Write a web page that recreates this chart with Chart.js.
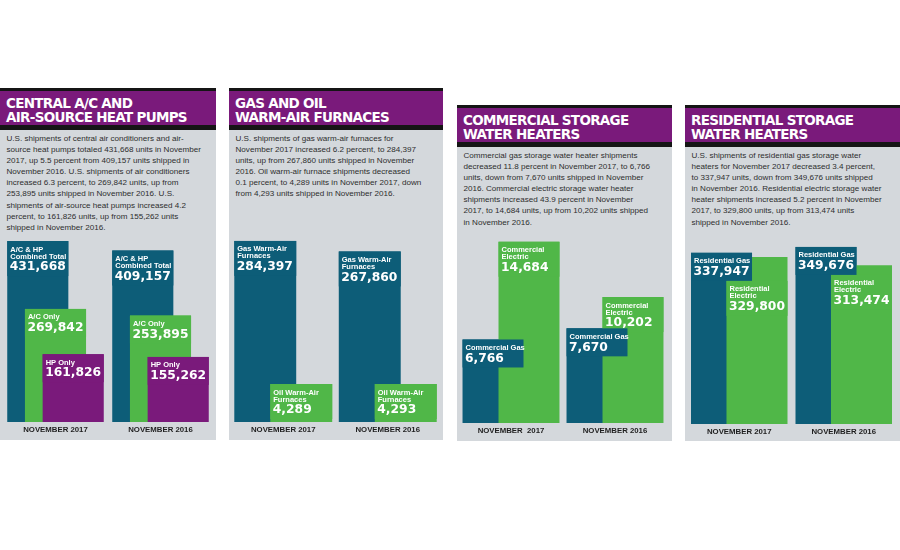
<!DOCTYPE html>
<html>
<head>
<meta charset="utf-8">
<script src="https://cdn.jsdelivr.net/npm/chart.js@4/dist/chart.umd.min.js"></script>
<style>
  html, body { margin: 0; padding: 0; background: #fff; }
  body { width: 900px; height: 550px; position: relative; overflow: hidden; }
  .panel { position: absolute; background: #d4d8dc; }
  .head { position: absolute; left: 0; top: 0; right: 0; height: 34px; background: #7a1a7b;
          border-top: 3px solid #151515; border-bottom: 5px solid #151515; }
  .title { position: absolute; left: 6px; top: 5.3px; color: #fff; white-space: nowrap;
           font: bold 13.5px/14px "DejaVu Sans", sans-serif; letter-spacing: -0.7px; }
  .body { position: absolute; left: 6.5px; top: 45px; color: #2e2e2e; white-space: nowrap;
          font: 8.1px/11.1px "Liberation Sans", Arial, sans-serif; }
  canvas { position: absolute; }
</style>
</head>
<body>
<div class="panel" style="left:0;top:88px;width:216px;height:352px">
  <div class="head"><div class="title">CENTRAL A/C AND<br>AIR-SOURCE HEAT PUMPS</div></div>
  <div class="body">U.S. shipments of central air conditioners and air-<br>source heat pumps totaled 431,668 units in November<br>2017, up 5.5 percent from 409,157 units shipped in<br>November 2016. U.S. shipments of air conditioners<br>increased 6.3 percent, to 269,842 units, up from<br>253,895 units shipped in November 2016. U.S.<br>shipments of air-source heat pumps increased 4.2<br>percent, to 161,826 units, up from 155,262 units<br>shipped in November 2016.</div>
</div>
<div class="panel" style="left:229px;top:88px;width:214px;height:352px">
  <div class="head"><div class="title">GAS AND OIL<br>WARM-AIR FURNACES</div></div>
  <div class="body">U.S. shipments of gas warm-air furnaces for<br>November 2017 increased 6.2 percent, to 284,397<br>units, up from 267,860 units shipped in November<br>2016. Oil warm-air furnace shipments decreased<br>0.1 percent, to 4,289 units in November 2017, down<br>from 4,293 units shipped in November 2016.</div>
</div>
<div class="panel" style="left:457px;top:105px;width:215px;height:336px">
  <div class="head"><div class="title">COMMERCIAL STORAGE<br>WATER HEATERS</div></div>
  <div class="body">Commercial gas storage water heater shipments<br>decreased 11.8 percent in November 2017, to 6,766<br>units, down from 7,670 units shipped in November<br>2016. Commercial electric storage water heater<br>shipments increased 43.9 percent in November<br>2017, to 14,684 units, up from 10,202 units shipped<br>in November 2016.</div>
</div>
<div class="panel" style="left:685px;top:105px;width:215px;height:336px">
  <div class="head"><div class="title">RESIDENTIAL STORAGE<br>WATER HEATERS</div></div>
  <div class="body">U.S. shipments of residential gas storage water<br>heaters for November 2017 decreased 3.4 percent,<br>to 337,947 units, down from 349,676 units shipped<br>in November 2016. Residential electric storage water<br>heater shipments increased 5.2 percent in November<br>2017, to 329,800 units, up from 313,474 units<br>shipped in November 2016.</div>
</div>

<canvas id="acChart" width="210" height="213" style="left:3px;top:225px"></canvas>
<canvas id="furnaceChart" width="209" height="213" style="left:231px;top:225px"></canvas>
<canvas id="commChart" width="208" height="213" style="left:459px;top:226px"></canvas>
<canvas id="resChart" width="209" height="213" style="left:687px;top:227px"></canvas>

<script>
// categories
const months = ['NOVEMBER 2017', 'NOVEMBER 2016'];
const commMonths = ['NOVEMBER  2017', 'NOVEMBER 2016'];

// central a/c and heat pumps
const acNames = ['A/C & HP|Combined Total', 'A/C Only', 'HP Only'];
const acCombined = [431668, 409157];
const acOnly = [269842, 253895];
const hpOnly = [161826, 155262];

// furnaces
const furnaceNames = ['Gas Warm-Air|Furnaces', 'Oil Warm-Air|Furnaces'];
const gasFurnace = [284397, 267860];
const oilFurnace = [4289, 4293];

// commercial water heaters
const commNames = ['Commercial Gas', 'Commercial|Electric'];
const commGas = [6766, 7670];
const commElectric = [14684, 10202];

// residential water heaters
const resNames = ['Residential Gas', 'Residential|Electric'];
const resGas = [337947, 349676];
const resElectric = [329800, 313474];

const TEAL = '#0d5d78';
const GREEN = '#50b748';
const PURPLE = '#7a1a7b';

// draw datasets first-to-last so the right-hand bar sits on top
const drawForward = {
    id: 'drawForward',
    beforeDatasetsDraw(chart) {
        chart.getSortedVisibleDatasetMetas().forEach(meta => meta.controller.draw());
        return false;
    }
};

// label box in the top-left corner of each bar
const barLabels = {
    id: 'barLabels',
    afterDraw(chart) {
        const ctx = chart.ctx;
        const sets = chart.data.datasets;
        chart.data.labels.forEach((_, i) => {
            const boxes = [];
            sets.forEach((ds, d) => {
                const bar = chart.getDatasetMeta(d).data[i];
                const lines = ds.label.split('|');
                const left = bar.x - bar.width / 2;
                const right = left + bar.width;
                const numY = 8.5 + (lines.length - 1) * 7 + 10.5;
                const h = numY + 9;
                let top = bar.y;
                // push the label under an earlier box if the bar starts inside it
                boxes.forEach(b => {
                    if (left < b.right && right > b.left && top >= b.top && top < b.bottom) top = b.bottom;
                });
                boxes.push({ ds, lines, left, right, top, bottom: top + h, h, numY, value: ds.data[i] });
            });
            // earlier boxes end up on top
            boxes.slice().reverse().forEach(b => {
                ctx.save();
                ctx.fillStyle = b.ds.backgroundColor;
                ctx.fillRect(b.left, b.top, b.right - b.left, b.h);
                ctx.fillStyle = '#fff';
                ctx.textBaseline = 'middle';
                ctx.font = "bold 7.5px 'Liberation Sans', Arial, sans-serif";
                b.lines.forEach((t, k) => ctx.fillText(t, b.left + 3, b.top + 8.5 + k * 7));
                ctx.font = "bold 12.3px 'DejaVu Sans', sans-serif";
                ctx.fillText(b.value.toLocaleString('en-US'), b.left + 2.5, b.top + b.numY);
                ctx.restore();
            });
        });
    }
};

function makeChart(id, labels, datasets, max, catPct, barPct) {
    return new Chart(document.getElementById(id), {
        type: 'bar',
        data: { labels, datasets },
        options: {
            responsive: false,
            animation: false,
            events: [],
            layout: { padding: 0 },
            categoryPercentage: catPct,
            barPercentage: barPct,
            scales: {
                x: {
                    grid: { display: false, drawTicks: false },
                    border: { display: false },
                    ticks: {
                        color: '#1e1e1e',
                        padding: 3,
                        maxRotation: 0,
                        autoSkip: false,
                        font: { family: "'Liberation Sans', Arial, sans-serif", weight: 'bold', size: 7.8, lineHeight: '10px' }
                    }
                },
                y: { display: false, min: 0, max: max }
            },
            plugins: { legend: { display: false }, tooltip: { enabled: false } }
        },
        plugins: [drawForward, barLabels]
    });
}

makeChart('acChart', months, [
    { label: acNames[0], data: acCombined, backgroundColor: TEAL, borderWidth: 0 },
    { label: acNames[1], data: acOnly, backgroundColor: GREEN, borderWidth: 0 },
    { label: acNames[2], data: hpOnly, backgroundColor: PURPLE, borderWidth: 0 }
], 470000, 0.506, 3.45);

makeChart('furnaceChart', months, [
    { label: furnaceNames[0], data: gasFurnace, backgroundColor: TEAL, borderWidth: 0 },
    { label: furnaceNames[1], data: oilFurnace, backgroundColor: GREEN, borderWidth: 0, minBarLength: 38 }
], 309400, 0.689, 1.72);

makeChart('commChart', commMonths, [
    { label: commNames[0], data: commGas, backgroundColor: TEAL, borderWidth: 0 },
    { label: commNames[1], data: commElectric, backgroundColor: GREEN, borderWidth: 0 }
], 15960, 0.692, 1.694);

makeChart('resChart', months, [
    { label: resNames[0], data: resGas, backgroundColor: TEAL, borderWidth: 0 },
    { label: resNames[1], data: resElectric, backgroundColor: GREEN, borderWidth: 0 }
], 389000, 0.679, 1.72);
</script>
</body>
</html>
